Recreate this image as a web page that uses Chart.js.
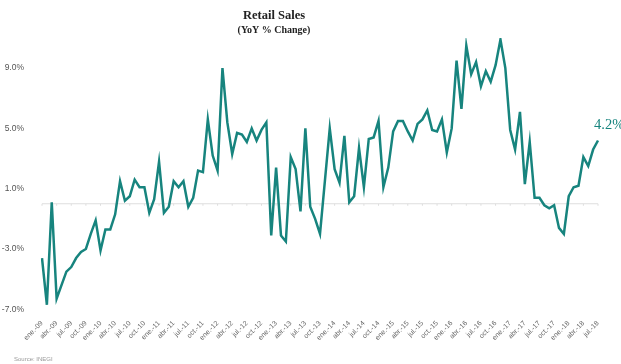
<!DOCTYPE html>
<html>
<head>
<meta charset="utf-8">
<script src="https://cdn.jsdelivr.net/npm/chart.js@4.4.0/dist/chart.umd.min.js"></script>
<style>
  html, body { margin: 0; padding: 0; background: #fff; }
  #wrap { position: relative; width: 621px; height: 364px; }
  #source { position: absolute; left: 14px; bottom: 2px; font: 6px "Liberation Sans", sans-serif; color: #999; }
</style>
</head>
<body>
<div id="wrap">
  <canvas id="retailChart" width="621" height="364"></canvas>
  <div id="source">Source: INEGI</div>
</div>
<script>
// Month names and years for the category axis (ene.-09 .. jul.-18)
const monthNames = ['ene.', 'feb.', 'mar.', 'abr.', 'may.', 'jun.', 'jul.', 'ago.', 'sep.', 'oct.', 'nov.', 'dic.'];
const years = ['09', '10', '11', '12', '13', '14', '15', '16', '17', '18'];

// Retail sales, YoY % change, monthly
const yoyChange = [
  -3.6, -6.7, 0.1, -6.3, -5.4, -4.5, -4.2, -3.6, -3.2, -3.0, -2.0, -1.1,
  -3.1, -1.7, -1.7, -0.7, 1.5, 0.2, 0.5, 1.6, 1.1, 1.1, -0.6, 0.3,
  2.8, -0.6, -0.2, 1.5, 1.1, 1.5, -0.2, 0.4, 2.2, 2.1, 5.6, 3.2,
  2.2, 9.0, 5.4, 3.3, 4.7, 4.6, 4.1, 5.0, 4.2, 4.9, 5.4, -2.1,
  2.4, -2.1, -2.5, 3.1, 2.3, -0.5, 5.0, -0.2, -1.0, -2.0, 1.5, 5.0,
  2.3, 1.4, 4.5, 0.1, 0.5, 3.7, 1.1, 4.3, 4.4, 5.5, 1.1, 2.4,
  4.8, 5.5, 5.5, 4.8, 4.2, 5.3, 5.6, 6.2, 4.9, 4.8, 5.6, 3.4,
  5.0, 9.5, 6.3, 10.5, 8.6, 9.4, 7.8, 8.8, 8.1, 9.2, 10.9, 9.0,
  4.9, 3.6, 6.1, 1.3, 4.1, 0.4, 0.4, -0.1, -0.3, -0.1, -1.6, -2.0,
  0.5, 1.1, 1.2, 3.1, 2.5, 3.6, 4.2
];

const yTicks = [-7, -3, 1, 5, 9];

const labels = [];
years.forEach(y => monthNames.forEach(m => labels.push(m + '-' + y)));
labels.length = yoyChange.length;

const teal = '#17847e';

// Title and subtitle, drawn a bit left of the canvas centre like the original
const titles = {
  id: 'titles',
  afterDraw(chart) {
    const ctx = chart.ctx;
    ctx.save();
    ctx.fillStyle = '#222';
    ctx.textAlign = 'center';
    ctx.textBaseline = 'middle';
    ctx.font = 'bold 12.5px "Liberation Serif", serif';
    ctx.fillText('Retail Sales', 274, 16);
    ctx.font = 'bold 10px "Liberation Serif", serif';
    ctx.fillText('(YoY % Change)', 274, 30);
    ctx.restore();
  }
};

// Writes the last value next to the end of the line
const lastValueLabel = {
  id: 'lastValueLabel',
  afterDatasetsDraw(chart) {
    const meta = chart.getDatasetMeta(0);
    const pt = meta.data[meta.data.length - 1];
    const ctx = chart.ctx;
    ctx.save();
    ctx.font = '14.5px "Liberation Serif", serif';
    ctx.fillStyle = teal;
    ctx.textAlign = 'left';
    ctx.textBaseline = 'middle';
    ctx.fillText(yoyChange[yoyChange.length - 1].toFixed(1) + '%', pt.x - 4, pt.y - 15);
    ctx.restore();
  }
};

// Light zero line with small tick marks
const zeroLine = {
  id: 'zeroLine',
  beforeDatasetsDraw(chart) {
    const x = chart.scales.x, y = chart.scales.y;
    const y0 = y.getPixelForValue(0);
    const ctx = chart.ctx;
    ctx.save();
    ctx.strokeStyle = '#dedede';
    ctx.lineWidth = 1;
    ctx.beginPath();
    ctx.moveTo(chart.chartArea.left, y0);
    ctx.lineTo(chart.chartArea.right, y0);
    for (let i = 0; i < labels.length; i += 3) {
      const px = x.getPixelForValue(i);
      ctx.moveTo(px, y0);
      ctx.lineTo(px, y0 + 2);
    }
    ctx.stroke();
    ctx.restore();
  }
};

new Chart(document.getElementById('retailChart'), {
  type: 'line',
  data: {
    labels: labels,
    datasets: [{
      data: yoyChange,
      borderColor: teal,
      borderWidth: 2.5,
      pointRadius: 0,
      tension: 0,
      fill: false
    }]
  },
  options: {
    responsive: false,
    animation: false,
    layout: { padding: { top: 38, right: 23, bottom: 20, left: 0 } },
    plugins: {
      legend: { display: false },
      tooltip: { enabled: false },
      title: { display: false }
    },
    scales: {
      x: {
        offset: false,
        border: { display: false },
        grid: { display: false },
        ticks: {
          autoSkip: false,
          minRotation: 45,
          maxRotation: 45,
          color: '#666',
          font: { family: '"Liberation Sans", sans-serif', size: 7 },
          padding: 2,
          callback: (v, i) => (i % 3 === 0 ? labels[i] : null)
        }
      },
      y: {
        min: -7,
        max: 11,
        border: { display: false },
        afterFit: scale => { scale.width = 42; },
        afterBuildTicks: axis => { axis.ticks = yTicks.map(v => ({ value: v })); },
        grid: { display: false },
        ticks: {
          color: '#555',
          padding: 10,
          font: { family: '"Liberation Sans", sans-serif', size: 8.5 },
          callback: v => v.toFixed(1) + '%'
        }
      }
    }
  },
  plugins: [zeroLine, lastValueLabel, titles]
});
</script>
</body>
</html>
